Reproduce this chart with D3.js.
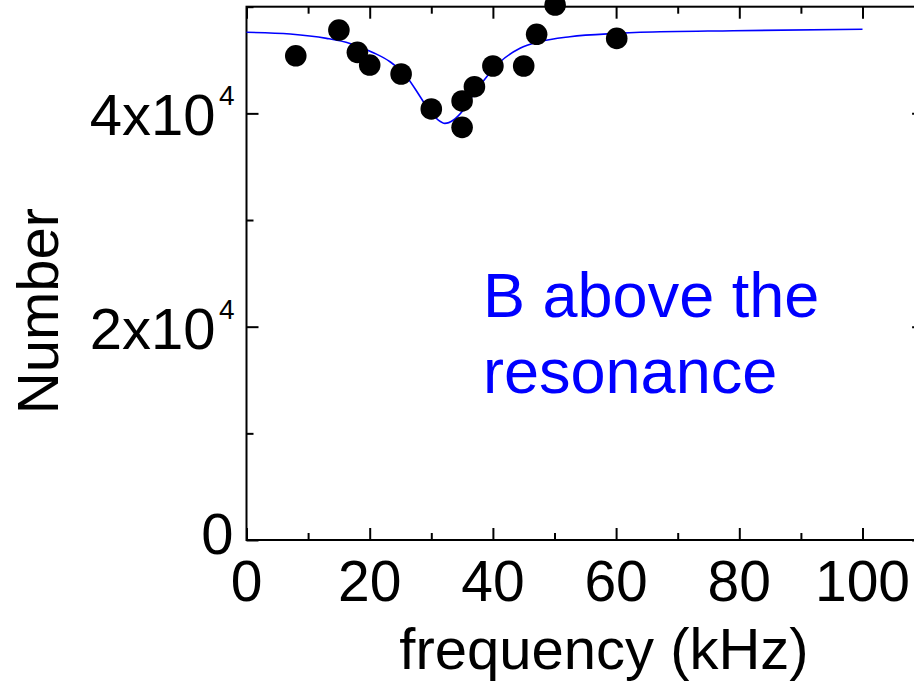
<!DOCTYPE html>
<html>
<head>
<meta charset="utf-8">
<script src="https://cdn.jsdelivr.net/npm/d3@7"></script>
<style>
  html, body { margin: 0; padding: 0; background: #fff; overflow: hidden; }
  svg { display: block; font-family: "Liberation Sans", Arial, sans-serif; }
</style>
</head>
<body>
<div id="chart"></div>
<script>
// measured points
const freq = [8, 15, 18, 20, 25.1, 30, 35, 35, 37, 40, 45, 47.1, 50.1, 60.1];
const counts = [45400, 47810, 45720, 44530, 43690, 40410, 41160, 38690, 42500, 44440, 44440, 47410, 50160, 47030];

// fitted curve
const fitFreq = [0, 7.1, 13, 16.8, 20.6, 23.3, 26, 28.2, 29.8, 31.1, 32.2, 33.6, 35.2, 36.8, 39, 41.2, 44.4, 47.6, 52.5, 60.1, 63.9, 79, 100];
const fitCounts = [47600, 47440, 47030, 46560, 45690, 44840, 43440, 41560, 40150, 39380, 39060, 39380, 40310, 41720, 43440, 44840, 46100, 46720, 47190, 47500, 47600, 47750, 47880];

const xMajor = [0, 20, 40, 60, 80, 100];
const xMinor = [10, 30, 50, 70, 90, 110];
const yMajor = [0, 20000, 40000];
const yMinor = [10000, 30000, 50000];
const yLabels = { 0: ["0", ""], 20000: ["2x10", "4"], 40000: ["4x10", "4"] };

const width = 914;
const height = 683;
const margin = { top: 6.7, left: 246.5 };
const innerW = 677.6;
const innerH = 533.3;

const x = d3.scaleLinear().domain([0, 110]).range([0, innerW]);
const y = d3.scaleLinear().domain([0, 50000]).range([innerH, 0]);

const svg = d3.select("#chart").append("svg")
  .attr("width", width)
  .attr("height", height);

const g = svg.append("g").attr("transform", `translate(${margin.left},${margin.top})`);

// frame ticks, all pointing inward
function ticks(axisFn, scale, values, size) {
  return axisFn(scale).tickValues(values).tickSize(size).tickFormat("").tickSizeOuter(0);
}

const axes = [
  [d3.axisTop, x, `translate(0,${innerH})`],
  [d3.axisBottom, x, "translate(0,0)"],
  [d3.axisRight, y, "translate(0,0)"],
  [d3.axisLeft, y, `translate(${innerW},0)`],
];
axes.forEach(([fn, scale, tr]) => {
  const isX = scale === x;
  g.append("g").attr("transform", tr).call(ticks(fn, scale, isX ? xMajor : yMajor, 12));
  g.append("g").attr("transform", tr).call(ticks(fn, scale, isX ? xMinor : yMinor, 7));
});
g.selectAll(".domain").remove();
g.selectAll(".tick line").attr("stroke", "#000").attr("stroke-width", 2);

g.append("rect")
  .attr("width", innerW)
  .attr("height", innerH)
  .attr("fill", "none")
  .attr("stroke", "#000")
  .attr("stroke-width", 2);

// x labels
g.selectAll(".xlab")
  .data(xMajor)
  .join("text")
  .attr("class", "xlab")
  .attr("x", (d) => x(d))
  .attr("y", innerH + 61)
  .attr("text-anchor", "middle")
  .attr("font-size", 57)
  .text((d) => d);

// y labels
yMajor.forEach((v) => {
  const [base, sup] = yLabels[v];
  g.append("text")
    .attr("x", sup ? -31 : -13)
    .attr("y", y(v) + (sup ? 22 : 14))
    .attr("text-anchor", "end")
    .attr("font-size", 58)
    .text(base);
  if (sup) {
    g.append("text")
      .attr("x", -12)
      .attr("y", y(v) - 8)
      .attr("text-anchor", "end")
      .attr("font-size", 28)
      .text(sup);
  }
});

// fit line
g.append("path")
  .datum(fitFreq.map((f, i) => [f, fitCounts[i]]))
  .attr("fill", "none")
  .attr("stroke", "#0000ff")
  .attr("stroke-width", 1.6)
  .attr("d", d3.line().x((d) => x(d[0])).y((d) => y(d[1])).curve(d3.curveMonotoneX));

// points
g.selectAll(".pt")
  .data(freq.map((f, i) => [f, counts[i]]))
  .join("circle")
  .attr("class", "pt")
  .attr("cx", (d) => x(d[0]))
  .attr("cy", (d) => y(d[1]))
  .attr("r", 10.8)
  .attr("fill", "#000");

// annotation
const note = g.append("text")
  .attr("fill", "#0000ff")
  .attr("font-size", 63);
note.append("tspan").attr("x", 483 - margin.left).attr("y", 316.7 - margin.top).text("B above the");
note.append("tspan").attr("x", 483 - margin.left).attr("y", 393 - margin.top).text("resonance");

// axis titles
svg.append("text")
  .attr("transform", "translate(58,311) rotate(-90)")
  .attr("text-anchor", "middle")
  .attr("font-size", 58)
  .text("Number");

svg.append("text")
  .attr("x", 604)
  .attr("y", 669)
  .attr("text-anchor", "middle")
  .attr("font-size", 58)
  .text("frequency (kHz)");
</script>
</body>
</html>
